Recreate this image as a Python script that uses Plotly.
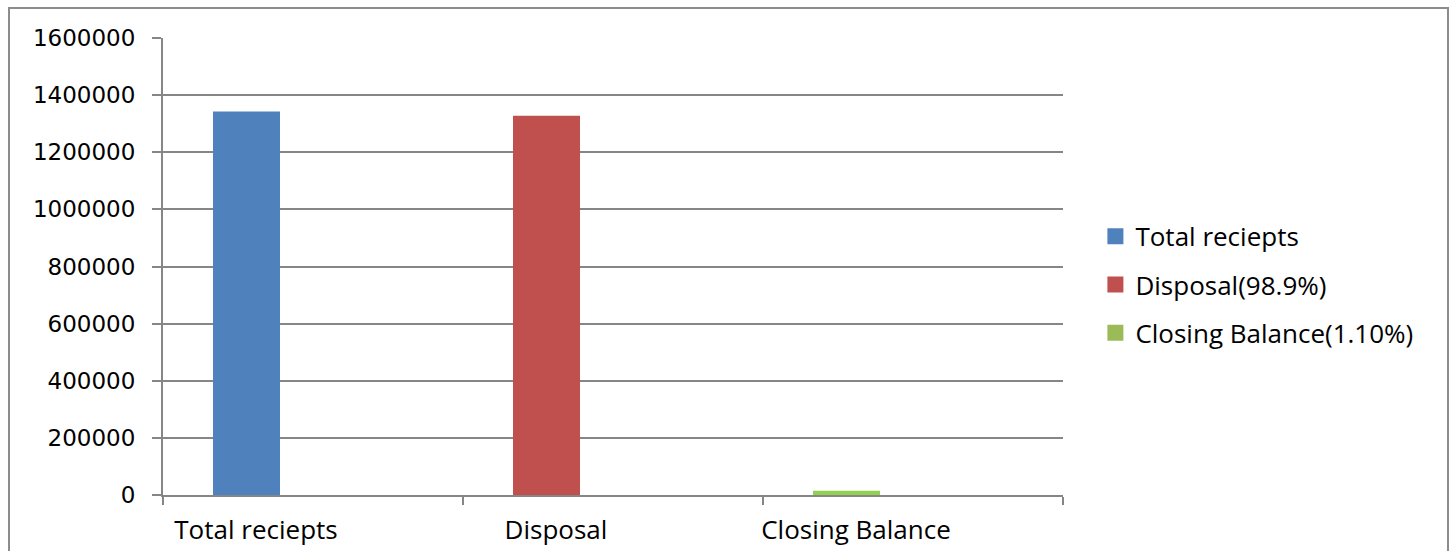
import plotly.graph_objects as go

categories = ["Total reciepts", "Disposal", "Closing Balance"]
series_names = ["Total reciepts", "Disposal(98.9%)", "Closing Balance(1.10%)"]
series_values = [1343000, 1328000, 15000]
bar_colors = ["#4F81BD", "#C0504D", "#92D050"]
legend_colors = ["#4F81BD", "#C0504D", "#9BBB59"]
y_ticks = [0, 200000, 400000, 600000, 800000, 1000000, 1200000, 1400000, 1600000]

GRID = "#868686"
fig = go.Figure()

for i, (name, val) in enumerate(zip(series_names, series_values)):
    fig.add_trace(go.Bar(
        x=[categories[i]], y=[val], name=name,
        marker=dict(color=bar_colors[i], line=dict(width=0)),
        width=0.2233, offset=-0.3333, showlegend=False,
    ))
for i, name in enumerate(series_names):
    fig.add_trace(go.Scatter(
        x=[categories[0]], y=[None], name=name, mode="markers",
        marker=dict(color=legend_colors[i], symbol="square", size=17, line=dict(width=0)),
        legendgroup=f"g{i}", showlegend=True, hoverinfo="skip",
    ))

fig.update_layout(
    width=1455, height=551,
    margin=dict(l=163, r=392, t=38, b=56, autoexpand=False),
    paper_bgcolor="white", plot_bgcolor="white",
    barmode="overlay",
    font=dict(family="Open Sans", size=24, color="black"),
    legend=dict(
        x=1.036, y=0.46, xanchor="left", yanchor="middle",
        traceorder="grouped", tracegroupgap=11.5,
        font=dict(family="Open Sans", size=26, color="black"),
        bgcolor="rgba(0,0,0,0)",
    ),
    xaxis=dict(
        type="category", categoryorder="array", categoryarray=categories,
        tickson="boundaries", ticks="outside", ticklen=8, tickcolor=GRID, tickwidth=2,
        showline=True, linecolor=GRID, linewidth=2, automargin=False,
        showgrid=False, ticklabelshift=-57, ticklabelstandoff=11,
        tickfont=dict(family="Open Sans", size=26, color="black"),
        range=[-0.5, 2.5],
    ),
    yaxis=dict(
        range=[0, 1600000], tickvals=y_ticks, tickformat="d",
        showgrid=True, gridcolor=GRID, gridwidth=2, automargin=False,
        ticks="outside", ticklen=9, tickcolor=GRID, tickwidth=2,
        showline=True, linecolor=GRID, linewidth=2, zeroline=False,
        ticklabelstandoff=12,
        tickfont=dict(family="DejaVu Sans", size=23, color="black"),
    ),
    shapes=[dict(
        type="rect", xref="paper", yref="paper",
        x0=(9 - 163) / 900, x1=(1448 - 163) / 900,
        y0=(495 - 570) / 457, y1=(495 - 8) / 457,
        line=dict(color="#8C8C8C", width=2), fillcolor="rgba(0,0,0,0)",
        layer="below",
    )],
)

fig.write_html("out.html")
